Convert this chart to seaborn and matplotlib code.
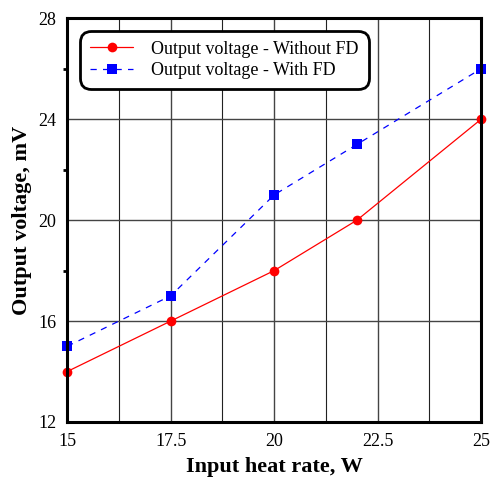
import matplotlib
matplotlib.use("Agg")
import matplotlib.pyplot as plt
import seaborn as sns
import pandas as pd
from matplotlib.ticker import MultipleLocator

heat_rate = [15, 17.5, 20, 22, 25]
volt_without_fd = [14, 16, 18, 20, 24]
volt_with_fd = [15, 17, 21, 23, 26]
xticks = [15, 17.5, 20, 22.5, 25]
yticks = [12, 16, 20, 24, 28]

sns.set_style("white")
plt.rcParams["font.family"] = ["Liberation Serif", "DejaVu Serif"]
plt.rcParams["text.color"] = "black"
plt.rcParams["axes.labelcolor"] = "black"
plt.rcParams["xtick.color"] = "black"
plt.rcParams["ytick.color"] = "black"

df = pd.DataFrame({
    "x": heat_rate * 2,
    "y": volt_without_fd + volt_with_fd,
    "series": ["Output voltage - Without FD"] * 5 + ["Output voltage - With FD"] * 5,
})

fig = plt.figure(figsize=(4.91, 4.79), dpi=100)
ax = fig.add_axes([0.137, 0.119, 0.843, 0.843])

d1 = df[df.series == "Output voltage - Without FD"]
d2 = df[df.series == "Output voltage - With FD"]
sns.lineplot(data=d1, x="x", y="y", ax=ax, color="red", lw=0.9, marker="o",
             markersize=7, markeredgewidth=0, label="Output voltage - Without FD",
             zorder=3, clip_on=False)
sns.lineplot(data=d2, x="x", y="y", ax=ax, color="blue", lw=0.9, marker="s",
             markersize=7, markeredgewidth=0, label="Output voltage - With FD",
             dashes=False, linestyle=(0, (5, 5)), zorder=3, clip_on=False)

ax.set_xlim(15, 25)
ax.set_ylim(12, 28)
ax.set_xticks(xticks)
ax.set_xticklabels(["15", "17.5", "20", "22.5", "25"])
ax.set_yticks(yticks)
ax.xaxis.set_minor_locator(MultipleLocator(1.25))
ax.yaxis.set_minor_locator(MultipleLocator(2))
ax.grid(True, which="major", axis="both", color="#444444", lw=1.0)
ax.grid(True, which="minor", axis="x", color="#222222", lw=0.8)
ax.tick_params(axis="both", which="major", direction="out", length=5, width=2,
               labelsize=13, pad=3)
ax.tick_params(axis="y", which="minor", direction="out", length=3, width=2, left=True)
ax.tick_params(axis="x", which="minor", length=0)
for s in ax.spines.values():
    s.set_linewidth(2.2)
    s.set_color("black")
    s.set_zorder(4)

ax.set_xlabel("Input heat rate, W", fontsize=16, fontweight="bold", labelpad=5)
ax.set_ylabel("Output voltage, mV", fontsize=16, fontweight="bold", labelpad=4)

leg = ax.legend(loc="upper left", bbox_to_anchor=(0.018, 0.982), fontsize=13,
                frameon=True, fancybox=True, handlelength=2.4, handletextpad=1.0,
                borderpad=0.35, labelspacing=0.25)
fr = leg.get_frame()
fr.set_edgecolor("black")
fr.set_linewidth(2)
fr.set_alpha(1)
fr.set_boxstyle("round,pad=0.2,rounding_size=0.6")

fig.savefig("out.png", dpi=100)
